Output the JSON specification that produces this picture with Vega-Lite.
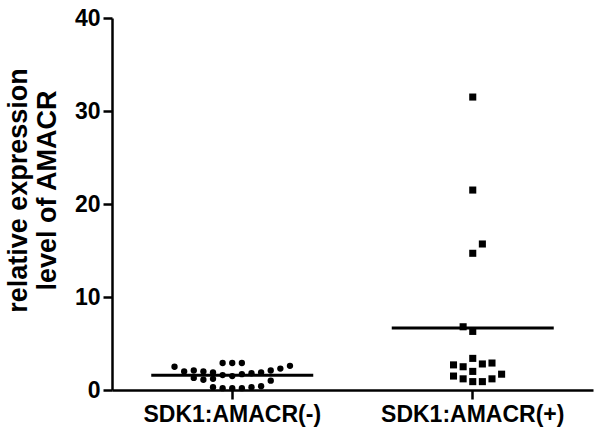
{
  "$schema": "https://vega.github.io/schema/vega-lite/v6.json",
  "width": 481,
  "height": 372,
  "autosize": {"type": "none"},
  "padding": {"left": 112, "top": 18, "right": 7, "bottom": 52},
  "background": "white",
  "config": {
    "view": {"stroke": null},
    "font": "Liberation Sans",
    "axis": {
      "domainColor": "black",
      "domainWidth": 2.5,
      "tickColor": "black",
      "tickWidth": 2.5,
      "tickSize": 9,
      "labelFont": "Liberation Sans",
      "labelFontWeight": "bold",
      "labelFontSize": 23,
      "labelColor": "black",
      "labelLimit": 400,
      "titleFont": "Liberation Sans",
      "titleFontWeight": "bold",
      "titleColor": "black",
      "grid": false
    }
  },
  "data": {
    "values": [
      {"group": "SDK1:AMACR(-)", "slot": -6, "value": 2.5},
      {"group": "SDK1:AMACR(-)", "slot": -5, "value": 2.0},
      {"group": "SDK1:AMACR(-)", "slot": -4, "value": 2.1},
      {"group": "SDK1:AMACR(-)", "slot": -4, "value": 1.3},
      {"group": "SDK1:AMACR(-)", "slot": -3, "value": 2.0},
      {"group": "SDK1:AMACR(-)", "slot": -3, "value": 1.1},
      {"group": "SDK1:AMACR(-)", "slot": -2, "value": 1.9},
      {"group": "SDK1:AMACR(-)", "slot": -2, "value": 1.2},
      {"group": "SDK1:AMACR(-)", "slot": -2, "value": 0.3},
      {"group": "SDK1:AMACR(-)", "slot": -1, "value": 2.9},
      {"group": "SDK1:AMACR(-)", "slot": -1, "value": 1.6},
      {"group": "SDK1:AMACR(-)", "slot": -1, "value": 0.2},
      {"group": "SDK1:AMACR(-)", "slot": 0, "value": 2.9},
      {"group": "SDK1:AMACR(-)", "slot": 0, "value": 1.5},
      {"group": "SDK1:AMACR(-)", "slot": 0, "value": 0.2},
      {"group": "SDK1:AMACR(-)", "slot": 1, "value": 2.9},
      {"group": "SDK1:AMACR(-)", "slot": 1, "value": 1.7},
      {"group": "SDK1:AMACR(-)", "slot": 1, "value": 0.2},
      {"group": "SDK1:AMACR(-)", "slot": 2, "value": 1.8},
      {"group": "SDK1:AMACR(-)", "slot": 2, "value": 0.3},
      {"group": "SDK1:AMACR(-)", "slot": 3, "value": 1.9},
      {"group": "SDK1:AMACR(-)", "slot": 3, "value": 0.4},
      {"group": "SDK1:AMACR(-)", "slot": 4, "value": 2.1},
      {"group": "SDK1:AMACR(-)", "slot": 4, "value": 1.0},
      {"group": "SDK1:AMACR(-)", "slot": 5, "value": 2.3},
      {"group": "SDK1:AMACR(-)", "slot": 6, "value": 2.6},
      {"group": "SDK1:AMACR(+)", "slot": -2, "value": 2.7},
      {"group": "SDK1:AMACR(+)", "slot": -2, "value": 1.5},
      {"group": "SDK1:AMACR(+)", "slot": -1, "value": 2.5},
      {"group": "SDK1:AMACR(+)", "slot": -1, "value": 1.2},
      {"group": "SDK1:AMACR(+)", "slot": -1, "value": 6.8},
      {"group": "SDK1:AMACR(+)", "slot": 0, "value": 3.4},
      {"group": "SDK1:AMACR(+)", "slot": 0, "value": 2.0},
      {"group": "SDK1:AMACR(+)", "slot": 0, "value": 0.9},
      {"group": "SDK1:AMACR(+)", "slot": 0, "value": 6.3},
      {"group": "SDK1:AMACR(+)", "slot": 0, "value": 14.7},
      {"group": "SDK1:AMACR(+)", "slot": 0, "value": 21.5},
      {"group": "SDK1:AMACR(+)", "slot": 0, "value": 31.5},
      {"group": "SDK1:AMACR(+)", "slot": 1, "value": 2.8},
      {"group": "SDK1:AMACR(+)", "slot": 1, "value": 0.9},
      {"group": "SDK1:AMACR(+)", "slot": 1, "value": 15.7},
      {"group": "SDK1:AMACR(+)", "slot": 2, "value": 2.9},
      {"group": "SDK1:AMACR(+)", "slot": 2, "value": 1.2},
      {"group": "SDK1:AMACR(+)", "slot": 3, "value": 1.7}
    ]
  },
  "encoding": {
    "x": {
      "field": "group",
      "type": "nominal",
      "sort": ["SDK1:AMACR(-)", "SDK1:AMACR(+)"],
      "scale": {"type": "band", "paddingInner": 0, "paddingOuter": 0},
      "axis": {"title": null, "labelAngle": 0, "labelPadding": 4}
    }
  },
  "layer": [
    {
      "mark": {"type": "point", "filled": true, "opacity": 1, "color": "black"},
      "encoding": {
        "xOffset": {"field": "slot", "type": "quantitative", "scale": {"domain": [-12.5, 12.5]}},
        "y": {
          "field": "value",
          "type": "quantitative",
          "scale": {"domain": [0, 40], "nice": false},
          "axis": {
            "values": [0, 10, 20, 30, 40],
            "title": ["relative expression", "level of AMACR"],
            "titleFontSize": 27,
            "titleLineHeight": 29,
            "titlePadding": 13,
            "titleY": 172,
            "labelPadding": 3
          }
        },
        "shape": {
          "field": "group",
          "type": "nominal",
          "scale": {"domain": ["SDK1:AMACR(-)", "SDK1:AMACR(+)"], "range": ["circle", "square"]},
          "legend": null
        },
        "size": {
          "field": "group",
          "type": "nominal",
          "scale": {"domain": ["SDK1:AMACR(-)", "SDK1:AMACR(+)"], "range": [40, 50]},
          "legend": null
        }
      }
    },
    {
      "mark": {"type": "tick", "color": "black", "size": 162, "thickness": 3, "opacity": 1},
      "encoding": {
        "y": {"aggregate": "mean", "field": "value", "type": "quantitative"}
      }
    }
  ]
}
